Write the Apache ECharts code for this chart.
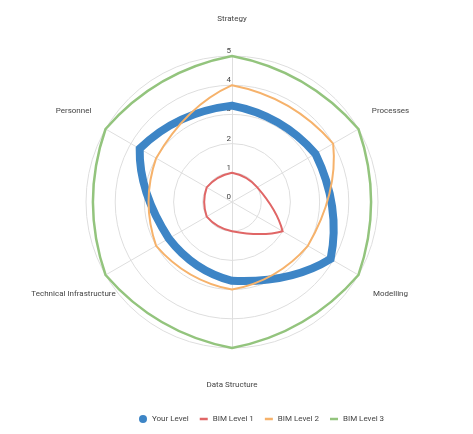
<!DOCTYPE html>
<html>
<head>
<meta charset="utf-8">
<script src="https://cdn.jsdelivr.net/npm/echarts@6/dist/echarts.min.js"></script>
<style>
html,body{margin:0;padding:0;background:#fff;}
#chart{width:473px;height:434px;}
</style>
</head>
<body>
<div id="chart"></div>
<script>
// ---- data ----
const indicators = ['Strategy', 'Processes', 'Modelling', 'Data Structure', 'Technical Infrastructure', 'Personnel'];
const maxValue = 5;
const yourLevel = [3.3, 3.3, 3.9, 2.7, 2.5, 3.65];
const bimLevel1 = [1, 1, 2, 1, 1, 1];
const bimLevel2 = [4, 4, 3, 3, 3, 3];
const bimLevel3 = [5, 5, 5, 5, 5, 5];
const seriesNames = ['Your Level', 'BIM Level 1', 'BIM Level 2', 'BIM Level 3'];

// ---- styles ----
const colors = ['#3d85c6', '#e06666', '#f6b26b', '#93c47d'];
const widths = [8, 2, 2, 2.5];
const CENTER = [232, 202];
const RADIUS = 146;
const BULGE = 1.2;
const gridColor = '#dedede';
const textColor = '#444';

const chart = echarts.init(document.getElementById('chart'), null, {renderer: 'canvas'});

function makeRender(color, width) {
  return function (params, api) {
    if (params.dataIndexInside !== 0) return null;
    const n = params.dataInsideLength;
    const pts = [];
    for (let j = 0; j < n; j++) {
      pts.push(api.coord([api.value(0, j), api.value(1, j)]));
    }
    const c = api.coord([0, 0]);
    let d = 'M' + pts[0][0] + ' ' + pts[0][1];
    for (let j = 0; j < n; j++) {
      const a = pts[j], b = pts[(j + 1) % n];
      const qx = c[0] + BULGE * ((a[0] + b[0]) / 2 - c[0]);
      const qy = c[1] + BULGE * ((a[1] + b[1]) / 2 - c[1]);
      d += ' Q' + qx + ' ' + qy + ' ' + b[0] + ' ' + b[1];
    }
    d += ' Z';
    return {
      type: 'path',
      shape: {pathData: d},
      style: {fill: 'none', stroke: color, lineWidth: width, lineJoin: 'miter'}
    };
  };
}

const allValues = [yourLevel, bimLevel1, bimLevel2, bimLevel3];
const series = allValues.map(function (vals, k) {
  return {
    type: 'custom',
    name: seriesNames[k],
    coordinateSystem: 'polar',
    clip: false,
    itemStyle: {color: colors[k]},
    data: vals.map(function (v, i) { return [v, indicators[i]]; }),
    renderItem: makeRender(colors[k], widths[k]),
    z: 2 + k
  };
});

// radar component runs counter-clockwise, so list its indicators in reverse after the first
const radarOrder = [indicators[0]].concat(indicators.slice(1).reverse());

const lineIcon = 'path://M0 0H8V2.5H0Z';

const option = {
  animation: false,
  textStyle: {fontFamily: 'Roboto, "Noto Sans", sans-serif'},
  radar: {
    center: CENTER,
    radius: RADIUS,
    shape: 'circle',
    splitNumber: 5,
    startAngle: 90,
    nameGap: 37,
    axisName: {color: textColor, fontSize: 8, align: 'center', verticalAlign: 'middle'},
    indicator: radarOrder.map(function (name, i) {
      const ind = {name: name, max: maxValue, min: 0};
      if (i === 0) {
        ind.axisLabel = {show: true};
      }
      return ind;
    }),
    axisLine: {lineStyle: {color: gridColor, width: 1}},
    splitLine: {lineStyle: {color: gridColor, width: 1}},
    splitArea: {show: false},
    axisTick: {show: false},
    axisLabel: {
      show: false, color: textColor, fontSize: 8, margin: 0,
      align: 'right', verticalAlign: 'bottom', padding: [0, 1, 1, 0]
    }
  },
  polar: {center: CENTER, radius: RADIUS},
  angleAxis: {
    type: 'category',
    data: indicators,
    startAngle: 90,
    clockwise: true,
    boundaryGap: false,
    axisLine: {show: false},
    axisTick: {show: false},
    axisLabel: {show: false},
    splitLine: {show: false}
  },
  radiusAxis: {
    min: 0,
    max: maxValue,
    axisLine: {show: false},
    axisTick: {show: false},
    axisLabel: {show: false},
    splitLine: {show: false}
  },
  legend: {
    left: 139,
    top: 415,
    padding: 0,
    itemWidth: 8,
    itemHeight: 8,
    itemGap: 11,
    textStyle: {color: textColor, fontSize: 8},
    data: [
      {name: seriesNames[0], icon: 'circle'},
      {name: seriesNames[1], icon: lineIcon},
      {name: seriesNames[2], icon: lineIcon},
      {name: seriesNames[3], icon: lineIcon}
    ]
  },
  series: series
};

chart.setOption(option);
</script>
</body>
</html>
